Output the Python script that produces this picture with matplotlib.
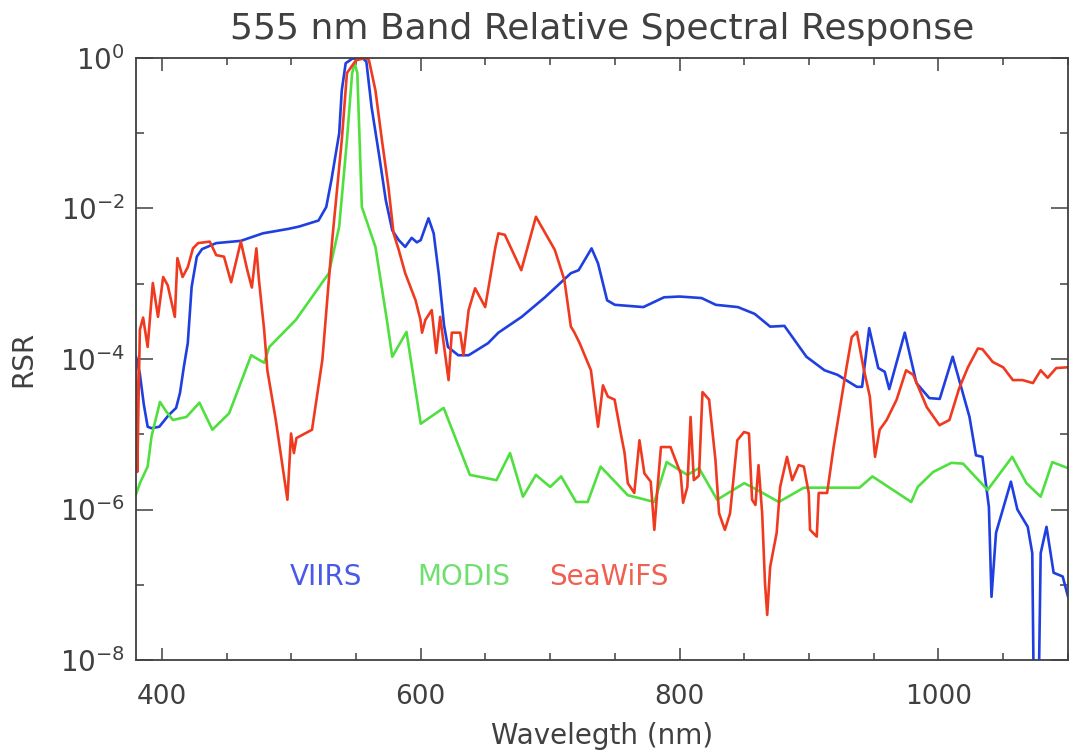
import numpy as np
import matplotlib
matplotlib.use("Agg")
import matplotlib.pyplot as plt
from matplotlib.ticker import FixedLocator, NullFormatter

# wavelength (nm) and log10(RSR)
viirs_wl = [380, 383, 386, 389, 392, 398, 405, 411, 414, 417, 420, 423, 427, 431, 442,
            461, 478, 498, 506, 521, 527, 531, 537, 539, 542, 547, 555, 558, 562, 568,
            573, 578, 583, 588, 593, 597, 600, 606, 610, 614, 618, 621, 629, 637, 652,
            660, 678, 696, 716, 722, 732, 737, 744, 750, 772, 788, 800, 817, 828, 845,
            858, 870, 881, 898, 912, 922, 937, 941, 946.5, 953.5, 958.5, 962, 974, 983,
            993, 1001, 1011, 1024, 1029, 1034, 1039, 1041, 1044.5, 1056, 1061, 1069,
            1072.5, 1074, 1077, 1079, 1083.5, 1089, 1096, 1100]
viirs_log = [-3.97, -4.2, -4.6, -4.9, -4.92, -4.9, -4.75, -4.65, -4.45, -4.1, -3.79, -3.04,
             -2.64, -2.54, -2.46, -2.43, -2.33, -2.27, -2.24, -2.16, -1.98, -1.62, -1.0,
             -0.43, -0.07, -0.01, 0.0, -0.05, -0.65, -1.31, -1.89, -2.29, -2.42, -2.51,
             -2.39, -2.45, -2.42, -2.13, -2.33, -2.88, -3.55, -3.84, -3.95, -3.95, -3.79,
             -3.65, -3.44, -3.18, -2.86, -2.82, -2.53, -2.73, -3.22, -3.28, -3.31, -3.18,
             -3.17, -3.19, -3.28, -3.31, -3.40, -3.57, -3.56, -3.97, -4.15, -4.21, -4.37,
             -4.37, -3.59, -4.12, -4.17, -4.40, -3.65, -4.32, -4.52, -4.53, -3.97, -4.77,
             -5.28, -5.30, -5.97, -7.16, -6.31, -5.63, -6.0, -6.23, -6.58, -9.0, -9.0,
             -6.58, -6.23, -6.84, -6.89, -7.15]

modis_wl = [380, 383, 389, 392, 398.5, 403.5, 408.5, 419, 429, 439, 452, 469, 479, 483,
            503.5, 529, 537, 543, 547, 549, 551, 554.5, 565, 574, 578, 589, 600, 617.7,
            638, 658.5, 669, 679, 689, 700, 708.5, 720, 729, 739, 760, 780.5, 790, 806,
            815, 829, 850, 860, 876.7, 896, 939, 949, 979, 984, 996, 1010, 1019, 1038,
            1057, 1068, 1079, 1088, 1100]
modis_log = [-5.8, -5.65, -5.43, -5.03, -4.57, -4.70, -4.81, -4.77, -4.58, -4.94, -4.72,
             -3.95, -4.05, -3.84, -3.48, -2.86, -2.24, -1.09, -0.2, -0.07, -0.2, -1.98,
             -2.51, -3.5, -3.97, -3.64, -4.86, -4.65, -5.54, -5.61, -5.25, -5.83, -5.54,
             -5.70, -5.56, -5.90, -5.90, -5.43, -5.81, -5.90, -5.37, -5.54, -5.45, -5.87,
             -5.65, -5.74, -5.90, -5.71, -5.71, -5.56, -5.90, -5.70, -5.50, -5.38, -5.39,
             -5.74, -5.30, -5.65, -5.83, -5.37, -5.45]

seawifs_wl = [380, 380.5, 381, 382, 383, 385.5, 389, 393, 397, 401, 404.5, 410, 412, 416,
              420, 424, 428, 437, 442, 448, 453.5, 461, 466, 469.5, 473, 475, 479, 481.5,
              488, 497, 499.8, 502, 504, 516, 524, 529, 531.6, 539, 543, 550, 557.7, 560,
              565, 570, 575, 579, 583, 588, 596, 599.8, 601, 603.6, 608.5, 612, 615, 617.7,
              621.5, 624, 630.5, 633, 637, 642, 649.8, 657.7, 660, 665, 677.7, 689, 703.6,
              711, 716, 718.5, 722.8, 731.5, 737, 740.8, 744.6, 749.8, 754.6, 757.5, 760,
              765, 769, 772.8, 777.7, 780.5, 783, 785.6, 793, 800.8, 802.7, 806, 808.5,
              811, 815, 817.7, 822.8, 827.7, 830.5, 835, 839, 844.6, 849.8, 853.6, 856,
              858.6, 861, 863.8, 866, 867.7, 870, 875, 877.7, 883, 887, 892, 896, 899.8,
              900.8, 906, 907.5, 914, 919, 924, 929, 933, 937, 942, 947, 951, 954.6, 960,
              967.7, 975, 980.5, 991, 1000.8, 1008.5, 1016, 1022.8, 1030.5, 1034, 1042,
              1050, 1057.5, 1065, 1073, 1079, 1084.4, 1091, 1100]
seawifs_log = [-4.0, -5.0, -5.5, -4.5, -3.61, -3.45, -3.84, -2.99, -3.44, -2.91, -3.02,
               -3.44, -2.66, -2.91, -2.78, -2.53, -2.46, -2.44, -2.62, -2.64, -2.98, -2.44,
               -2.82, -3.05, -2.53, -2.95, -3.61, -4.15, -4.81, -5.87, -4.99, -5.25, -5.05,
               -4.94, -4.01, -2.95, -2.42, -1.09, -0.2, -0.03, 0.0, -0.03, -0.43, -1.09,
               -1.71, -2.33, -2.55, -2.86, -3.22, -3.48, -3.65, -3.48, -3.35, -3.92, -3.44,
               -3.79, -4.28, -3.65, -3.65, -3.95, -3.35, -3.06, -3.31, -2.51, -2.33, -2.35,
               -2.82, -2.11, -2.55, -2.95, -3.57, -3.64, -3.79, -4.15, -4.90, -4.35, -4.50,
               -4.54, -4.99, -5.25, -5.65, -5.78, -5.08, -5.52, -5.63, -6.27, -5.70, -5.17,
               -5.17, -5.52, -5.91, -5.70, -4.77, -5.61, -5.55, -4.44, -4.54, -5.34, -6.05,
               -6.27, -6.05, -5.08, -4.97, -4.99, -5.87, -5.94, -5.41, -6.05, -6.98, -7.40,
               -6.76, -6.31, -5.70, -5.30, -5.61, -5.41, -5.43, -5.78, -6.27, -6.36, -5.78,
               -5.78, -5.17, -4.64, -4.11, -3.71, -3.64, -4.11, -4.50, -5.30, -4.94, -4.81,
               -4.54, -4.15, -4.21, -4.64, -4.88, -4.81, -4.39, -4.11, -3.86, -3.87, -4.04,
               -4.11, -4.28, -4.28, -4.32, -4.15, -4.25, -4.12, -4.11]

names = ["VIIRS", "MODIS", "SeaWiFS"]
line_colors = ["#1f3fe0", "#4fe040", "#f03a20"]
text_colors = ["#4a5ae8", "#6fe070", "#f06050"]
label_x = [527, 633, 745]

grey = "#404040"
plt.rcParams['font.family'] = ['DejaVu Sans']

fig = plt.figure(figsize=(10.7, 7.52), dpi=100)
ax = fig.add_axes([0.1271, 0.1223, 0.8709, 0.8006])

curves = [(viirs_wl, viirs_log), (modis_wl, modis_log), (seawifs_wl, seawifs_log)]
for (wl, lg), c in zip(curves, line_colors):
    ax.plot(wl, 10.0 ** np.array(lg), color=c, lw=1.9)

ax.set_yscale('log')
ax.set_xlim(380, 1100)
ax.set_ylim(1e-8, 1.0)

ax.yaxis.set_major_locator(FixedLocator([1e-8, 1e-6, 1e-4, 1e-2, 1e0]))
ax.yaxis.set_minor_locator(FixedLocator([1e-7, 1e-5, 1e-3, 1e-1]))
ax.yaxis.set_minor_formatter(NullFormatter())
ax.set_yticklabels([r'$10^{-8}$', r'$10^{-6}$', r'$10^{-4}$', r'$10^{-2}$', r'$10^{0}$'])
ax.set_xticks([400, 600, 800, 1000])
ax.set_xticks(np.arange(400, 1101, 50), minor=True)

ax.tick_params(axis='both', which='both', direction='in', top=True, right=True,
               colors=grey, width=1.1)
ax.tick_params(axis='x', which='major', length=9, pad=17, labelsize=19)
ax.tick_params(axis='x', which='minor', length=5)
ax.tick_params(axis='y', which='major', length=12, pad=8, labelsize=20)
ax.tick_params(axis='y', which='minor', length=6)
for s in ax.spines.values():
    s.set_color(grey)
    s.set_linewidth(1.3)

ax.set_title("555 nm Band Relative Spectral Response", fontsize=26, color=grey, pad=14)
ax.set_xlabel("Wavelegth (nm)", fontsize=20, color=grey, labelpad=9)
ax.set_ylabel("RSR", fontsize=20, color=grey, labelpad=16)

for n, tc, lx in zip(names, text_colors, label_x):
    ax.text(lx, 10 ** -6.9, n, color=tc, fontsize=20, ha='center', va='center')

fig.savefig("out.png", dpi=100)
